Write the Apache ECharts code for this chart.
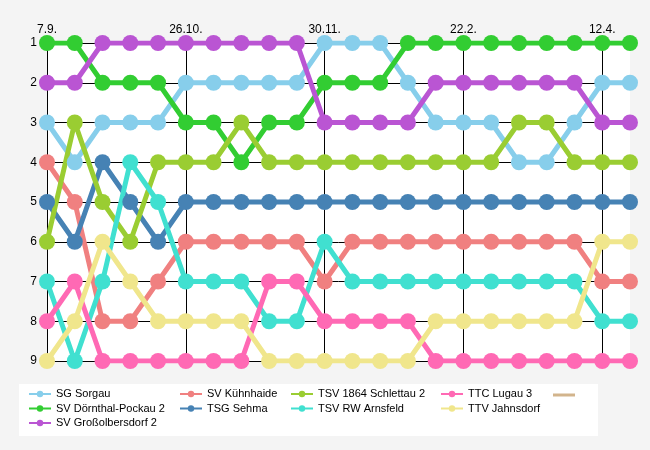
<!DOCTYPE html>
<html>
<head>
<meta charset="utf-8" />
<title>Tabellenverlauf</title>
<script src="https://cdn.jsdelivr.net/npm/echarts@6/dist/echarts.min.js"></script>
<style>
  html, body { margin: 0; padding: 0; background: #f4f4f4; }
  #main { width: 650px; height: 450px; }
</style>
</head>
<body>
<div id="main"></div>
<script type="text/javascript">
    // Beschriftung oben, jede 5. Runde
    var tickLabels = ['7.9.', '26.10.', '30.11.', '22.2.', '12.4.'];
    var teamNames = ['SG Sorgau', 'SV Dörnthal-Pockau 2', 'SV Großolbersdorf 2', 'SV Kühnhaide', 'TSG Sehma',
                     'TSV 1864 Schlettau 2', 'TSV RW Arnsfeld', 'TTC Lugau 3', 'TTV Jahnsdorf'];
    var colors = ['#87CEEB', '#32CD32', '#BA55D3', '#F08080', '#4682B4', '#9ACD32', '#40E0D0', '#FF69B4', '#F0E68C', '#D2B48C'];

    // Tabellenplatz je Runde
    var sorgau        = [3,4,3,3,3,2,2,2,2,2,1,1,1,2,3,3,3,4,4,3,2,2];
    var doernthal     = [1,1,2,2,2,3,3,4,3,3,2,2,2,1,1,1,1,1,1,1,1,1];
    var grossolbersd  = [2,2,1,1,1,1,1,1,1,1,3,3,3,3,2,2,2,2,2,2,3,3];
    var kuehnhaide    = [4,5,8,8,7,6,6,6,6,6,7,6,6,6,6,6,6,6,6,6,7,7];
    var sehma         = [5,6,4,5,6,5,5,5,5,5,5,5,5,5,5,5,5,5,5,5,5,5];
    var schlettau     = [6,3,5,6,4,4,4,3,4,4,4,4,4,4,4,4,4,3,3,4,4,4];
    var arnsfeld      = [7,9,7,4,5,7,7,7,8,8,6,7,7,7,7,7,7,7,7,7,8,8];
    var lugau         = [8,7,9,9,9,9,9,9,7,7,8,8,8,8,9,9,9,9,9,9,9,9];
    var jahnsdorf     = [9,8,6,7,8,8,8,8,9,9,9,9,9,9,8,8,8,8,8,8,6,6];

    var allRanks = [sorgau, doernthal, grossolbersd, kuehnhaide, sehma, schlettau, arnsfeld, lugau, jahnsdorf];

    var categories = [];
    for (var i = 0; i < sorgau.length; i++) {
        categories.push(i % 5 == 0 ? tickLabels[i / 5] : '');
    }
    function everyFifth(idx) { return idx % 5 == 0; }

    var series = [];
    for (var s = 0; s < allRanks.length; s++) {
        series.push({
            name: teamNames[s],
            type: 'line',
            data: allRanks[s],
            color: colors[s],
            symbol: 'circle',
            symbolSize: 16,
            showAllSymbol: true,
            lineStyle: { width: 5 }
        });
    }
    // leere Reihe (nur Legende)
    series.push({ name: ' ', type: 'line', data: [], color: colors[9], symbol: 'none', lineStyle: { width: 3 } });

    var legendFont = { color: '#000', fontSize: 11, lineHeight: 12, fontFamily: 'Liberation Sans, Arial, sans-serif' };
    function makeLegend(left, names) {
        return {
            orient: 'vertical',
            left: left,
            top: 388,
            padding: 0,
            itemWidth: 22,
            itemHeight: 8,
            itemGap: 2.5,
            textStyle: legendFont,
            data: names
        };
    }
    var tanLegend = makeLegend(553, [{ name: ' ', icon: 'rect' }]);
    tanLegend.itemHeight = 3;
    tanLegend.top = 389;

    var myChart = echarts.init(document.getElementById('main'));
    myChart.setOption({
        backgroundColor: '#f4f4f4',
        animation: false,
        grid: {
            left: 47, right: 20, top: 43, bottom: 89,
            show: true, backgroundColor: '#ffffff', borderWidth: 0
        },
        graphic: [{
            type: 'rect', left: 19, top: 384, z: -1,
            shape: { width: 579, height: 52 },
            style: { fill: '#ffffff' }
        }],
        legend: [
            makeLegend(28, [teamNames[0], teamNames[1], teamNames[2]]),
            makeLegend(179, [teamNames[3], teamNames[4]]),
            makeLegend(290, [teamNames[5], teamNames[6]]),
            makeLegend(440, [teamNames[7], teamNames[8]]),
            tanLegend
        ],
        xAxis: {
            type: 'category',
            position: 'top',
            boundaryGap: false,
            data: categories,
            axisLine: { lineStyle: { color: '#000', width: 1 } },
            axisTick: { show: true, length: 5, interval: everyFifth, lineStyle: { color: '#000' } },
            axisLabel: {
                interval: everyFifth, margin: 7, color: '#000', fontSize: 12,
                fontFamily: 'Liberation Sans, Arial, sans-serif'
            },
            splitLine: { show: true, interval: everyFifth, lineStyle: { color: '#000', width: 1 } }
        },
        yAxis: {
            type: 'value',
            inverse: true,
            min: 1,
            max: 9,
            interval: 1,
            axisLine: { show: true, lineStyle: { color: '#000', width: 1 } },
            axisTick: { show: true, length: 6, lineStyle: { color: '#000' } },
            axisLabel: {
                margin: 10, color: '#000', fontSize: 12,
                fontFamily: 'Liberation Sans, Arial, sans-serif'
            },
            splitLine: { show: true, lineStyle: { color: '#000', width: 1 } }
        },
        series: series
    });
</script>
</body>
</html>
